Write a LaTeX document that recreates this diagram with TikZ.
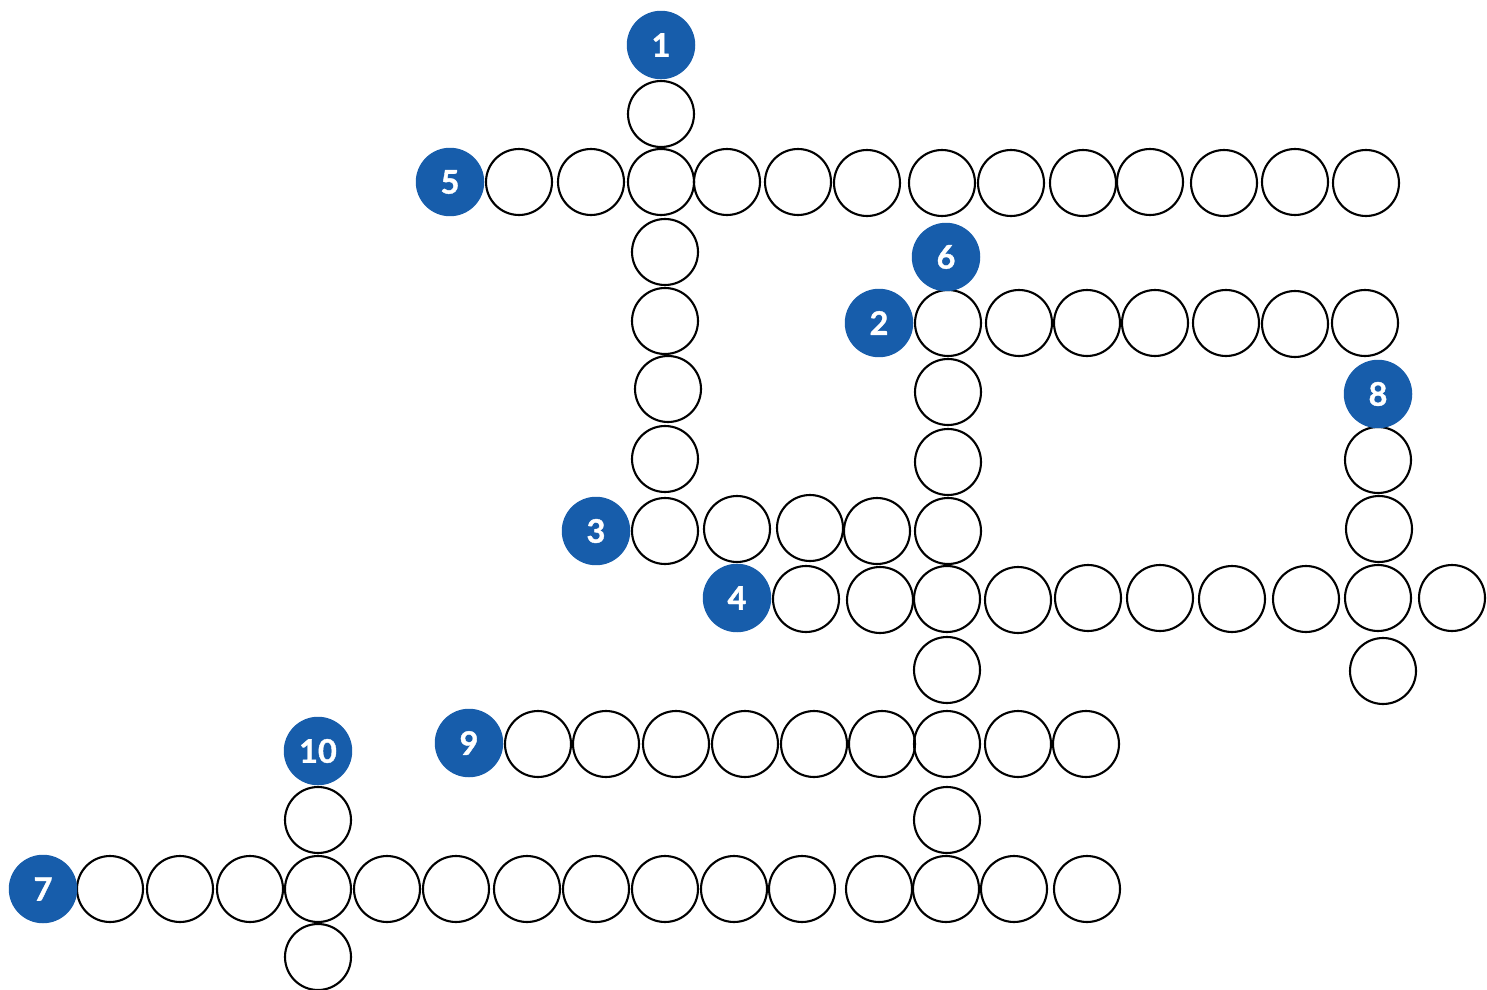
\documentclass[tikz,border=0pt]{standalone}
\usepackage{fontspec}
\setmainfont{Lato}[BoldFeatures={FakeBold=1.2}]
\definecolor{clueblue}{HTML}{175DAB}

\begin{document}
\begin{tikzpicture}[x=0.02cm,y=-0.02cm,line width=1.2pt,
  cell/.style={circle,draw=black,minimum size=1.32cm,inner sep=0pt},
  num/.style={circle,fill=clueblue,text=white,minimum size=1.37cm,inner sep=0pt,
    font=\fontsize{18.5}{20}\selectfont\bfseries}]
\useasboundingbox (0,0) rectangle (1487,990);
% ---------- 5 across ----------
\node[cell] (c5a) at (519,182) {};
\node[cell] (c5b) at (591,182) {};
\node[cell] (c5c) at (661,182) {};
\node[cell] (c5d) at (727,182) {};
\node[cell] (c5e) at (798,182) {};
\node[cell] (c5f) at (867,183) {};
\node[cell] (c5g) at (942,183) {};
\node[cell] (c5h) at (1011,183) {};
\node[cell] (c5i) at (1083,183) {};
\node[cell] (c5j) at (1150,182) {};
\node[cell] (c5k) at (1224,183) {};
\node[cell] (c5l) at (1295,182) {};
\node[cell] (c5m) at (1366,183) {};
% ---------- 1 down ----------
\node[cell] (c1a) at (661,114) {};
\node[cell] (c1c) at (665,252) {};
\node[cell] (c1d) at (665,321) {};
\node[cell] (c1e) at (668,389) {};
\node[cell] (c1f) at (665,459) {};
% ---------- 3 across ----------
\node[cell] (c3a) at (665,531) {};
\node[cell] (c3b) at (737,529) {};
\node[cell] (c3c) at (810,528) {};
\node[cell] (c3d) at (877,531) {};
\node[cell] (c3e) at (948,531) {};
% ---------- 2 across ----------
\node[cell] (c2a) at (948,323) {};
\node[cell] (c2b) at (1019,323) {};
\node[cell] (c2c) at (1087,323) {};
\node[cell] (c2d) at (1155,323) {};
\node[cell] (c2e) at (1226,323) {};
\node[cell] (c2f) at (1295,324) {};
\node[cell] (c2g) at (1365,323) {};
% ---------- 6 down ----------
\node[cell] (c6b) at (948,392) {};
\node[cell] (c6c) at (948,462) {};
\node[cell] (c6f) at (947,670) {};
\node[cell] (c6h) at (947,820) {};
% ---------- 8 down ----------
\node[cell] (c8a) at (1378,460) {};
\node[cell] (c8b) at (1379,529) {};
\node[cell] (c8d) at (1383,671) {};
% ---------- 4 across ----------
\node[cell] (c4a) at (806,599) {};
\node[cell] (c4b) at (880,600) {};
\node[cell] (c4c) at (947,599) {};
\node[cell] (c4d) at (1018,600) {};
\node[cell] (c4e) at (1088,598) {};
\node[cell] (c4f) at (1160,598) {};
\node[cell] (c4g) at (1232,599) {};
\node[cell] (c4h) at (1306,599) {};
\node[cell] (c4i) at (1378,598) {};
\node[cell] (c4j) at (1452,598) {};
% ---------- 9 across ----------
\node[cell] (c9a) at (538,744) {};
\node[cell] (c9b) at (606,744) {};
\node[cell] (c9c) at (676,744) {};
\node[cell] (c9d) at (745,744) {};
\node[cell] (c9e) at (814,744) {};
\node[cell] (c9f) at (882,744) {};
\node[cell] (c9g) at (947,744) {};
\node[cell] (c9h) at (1018,744) {};
\node[cell] (c9i) at (1086,744) {};
% ---------- 10 down ----------
\node[cell] (c10a) at (318,820) {};
\node[cell] (c10c) at (318,957) {};
% ---------- 7 across ----------
\node[cell] (c7a) at (110,889) {};
\node[cell] (c7b) at (180,889) {};
\node[cell] (c7c) at (250,889) {};
\node[cell] (c7d) at (318,889) {};
\node[cell] (c7e) at (387,889) {};
\node[cell] (c7f) at (456,889) {};
\node[cell] (c7g) at (527,889) {};
\node[cell] (c7h) at (596,889) {};
\node[cell] (c7i) at (665,889) {};
\node[cell] (c7j) at (734,889) {};
\node[cell] (c7k) at (802,889) {};
\node[cell] (c7l) at (879,889) {};
\node[cell] (c7m) at (946,889) {};
\node[cell] (c7n) at (1014,889) {};
\node[cell] (c7o) at (1087,889) {};
% ---------- clue numbers ----------
\node[num] (n1) at (661,45) {1};
\node[num] (n2) at (879,323) {2};
\node[num] (n3) at (596,531) {3};
\node[num] (n4) at (737,598) {4};
\node[num] (n5) at (450,182) {5};
\node[num] (n6) at (946,257) {6};
\node[num] (n7) at (43,889) {7};
\node[num] (n8) at (1378,394) {8};
\node[num] (n9) at (469,743) {9};
\node[num] (n10) at (318,751) {10};
\end{tikzpicture}
\end{document}
